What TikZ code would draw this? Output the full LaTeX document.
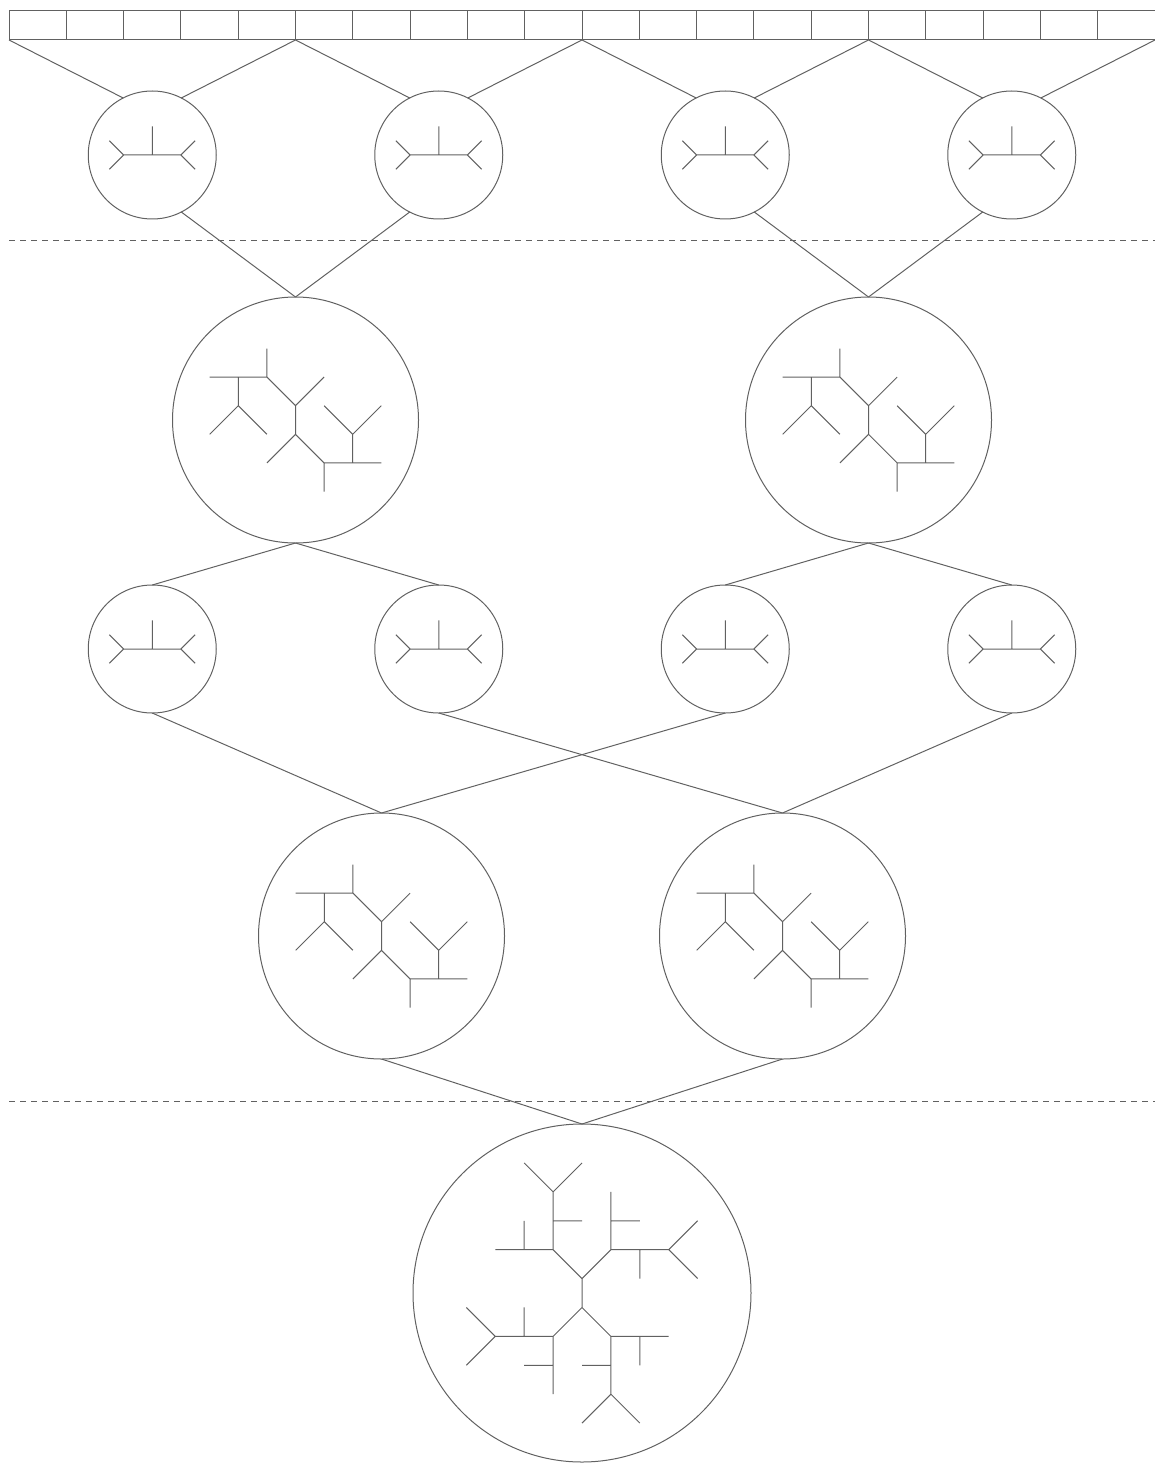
\documentclass[tikz,border=0pt]{standalone}
\begin{document}
\begin{tikzpicture}[x=1pt,y=-1pt,
  ln/.style={draw=black!62,line width=1pt},
  dsh/.style={ln,dash pattern=on 6pt off 5pt},
  ring/.style={circle,draw=black!62,line width=1pt,inner sep=0pt,outer sep=0pt},
  sm/.style={ring,minimum size=128pt},
  bg/.style={ring,minimum size=246pt},
  hg/.style={ring,minimum size=338pt},
  br/.style={draw=black!62,line width=1pt},
  twig/.pic={\begin{scope}[x=28.6pt,y=28.6pt]
    \draw[br] (-1.5,0.5)--(-1,0)--(-1.5,-0.5) (-1,0)--(1,0)
      (1.5,0.5)--(1,0)--(1.5,-0.5) (0,0)--(0,1);
  \end{scope}},
  bush/.pic={\begin{scope}[x=28.6pt,y=28.6pt]
    \draw[br] (0,0.5)--(0,-0.5)
      (1,1.5)--(0,0.5)--(-1,1.5)--(-3,1.5) (-1,1.5)--(-1,2.5)
      (-2,1.5)--(-2,0.5) (-3,-0.5)--(-2,0.5)--(-1,-0.5)
      (-1,-1.5)--(0,-0.5)--(1,-1.5)--(3,-1.5) (1,-1.5)--(1,-2.5)
      (2,-1.5)--(2,-0.5) (3,0.5)--(2,-0.5)--(1,0.5);
  \end{scope}},
  grove/.pic={\begin{scope}[x=28.9pt,y=28.9pt]
    \draw[br] (0,0.5)--(0,-0.5)
      (-1,1.5)--(0,0.5)--(1,1.5)
      (-1,1.5)--(-1,3.5) (-1,2.5)--(0,2.5) (-2,4.5)--(-1,3.5)--(0,4.5)
      (-1,1.5)--(-3,1.5) (-2,1.5)--(-2,2.5)
      (1,1.5)--(1,3.5) (1,2.5)--(2,2.5) (1,1.5)--(3,1.5) (2,1.5)--(2,0.5)
      (4,2.5)--(3,1.5)--(4,0.5)
      (1,-1.5)--(0,-0.5)--(-1,-1.5)
      (1,-1.5)--(1,-3.5) (1,-2.5)--(0,-2.5) (2,-4.5)--(1,-3.5)--(0,-4.5)
      (1,-1.5)--(3,-1.5) (2,-1.5)--(2,-2.5)
      (-1,-1.5)--(-1,-3.5) (-1,-2.5)--(-2,-2.5) (-1,-1.5)--(-3,-1.5)
      (-2,-1.5)--(-2,-0.5) (-4,-2.5)--(-3,-1.5)--(-4,-0.5);
  \end{scope}}
]
\useasboundingbox (0,0) rectangle (1155,1463);

% top bar
\draw[ln] (9,11) rectangle (1155,40);
\foreach \i in {1,...,19} \draw[ln] ({9+57.3*\i},11) -- ({9+57.3*\i},40);
\coordinate (v0) at (9,40);
\coordinate (v1) at (295.5,40);
\coordinate (v2) at (582,40);
\coordinate (v3) at (868.5,40);
\coordinate (v4) at (1155,40);

% dashed separators
\coordinate (dl1) at (9,241);  \coordinate (dr1) at (1155,241);
\coordinate (dl2) at (9,1101); \coordinate (dr2) at (1155,1101);
\draw[dsh] (dl1) -- (dr1);
\draw[dsh] (dl2) -- (dr2);

% row 1
\node[sm] (a1) at (152.25,155) {};
\node[sm] (a2) at (438.75,155) {};
\node[sm] (a3) at (725.25,155) {};
\node[sm] (a4) at (1011.75,155) {};
% row 2
\node[bg] (b1) at (295.5,420) {};
\node[bg] (b2) at (868.5,420) {};
% row 3
\node[sm] (c1) at (152.25,649) {};
\node[sm] (c2) at (438.75,649) {};
\node[sm] (c3) at (725.25,649) {};
\node[sm] (c4) at (1011.75,649) {};
% row 4
\node[bg] (d1) at (381.5,936) {};
\node[bg] (d2) at (782.5,936) {};
% bottom
\node[hg] (e) at (582,1293) {};

% trees
\foreach \n in {a1,a2,a3,a4,c1,c2,c3,c4} \pic at (\n.center) {twig};
\foreach \n in {b1,b2,d1,d2} \pic at (\n.center) {bush};
\pic at (e.center) {grove};

% connectors
\draw[ln] (v0) -- (a1.117);
\draw[ln] (v1) -- (a1.63);
\draw[ln] (v1) -- (a2.117);
\draw[ln] (v2) -- (a2.63);
\draw[ln] (v2) -- (a3.117);
\draw[ln] (v3) -- (a3.63);
\draw[ln] (v3) -- (a4.117);
\draw[ln] (v4) -- (a4.63);

\draw[ln] (a1.-63) -- (b1.north);
\draw[ln] (a2.-117) -- (b1.north);
\draw[ln] (a3.-63) -- (b2.north);
\draw[ln] (a4.-117) -- (b2.north);

\draw[ln] (b1.south) -- (c1.north);
\draw[ln] (b1.south) -- (c2.north);
\draw[ln] (b2.south) -- (c3.north);
\draw[ln] (b2.south) -- (c4.north);

\draw[ln] (c1.south) -- (d1.north);
\draw[ln] (c2.south) -- (d2.north);
\draw[ln] (c3.south) -- (d1.north);
\draw[ln] (c4.south) -- (d2.north);

\draw[ln] (d1.south) -- (e.north);
\draw[ln] (d2.south) -- (e.north);
\end{tikzpicture}
\end{document}
